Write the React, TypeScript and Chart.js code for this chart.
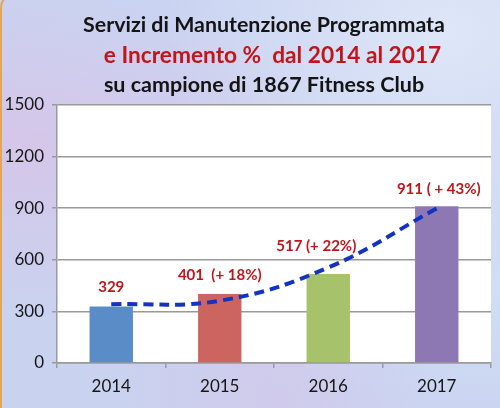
import { useEffect, useRef } from 'react'
import { Chart, registerables } from 'chart.js'

Chart.register(...registerables)

// chart data
const years = ['2014', '2015', '2016', '2017']
const services = [329, 401, 517, 911]
const trend = [341, 362, 555, 899]
const valueLabels = ['329', '401  (+ 18%)', '517 (+ 22%)', '911 ( + 43%)']
const yTicks = [0, 300, 600, 900, 1200, 1500]
const titleLines = [
  'Servizi di Manutenzione Programmata',
  'e Incremento %  dal 2014 al 2017',
  'su campione di 1867 Fitness Club',
]

const barColors = ['#5a8dc8', '#cc6560', '#a6c26a', '#8d78b3']
const titleColors = ['#141414', '#c0161b', '#141414']
const FONT = 'Lato, sans-serif'

// white plot area
const plotBg = {
  id: 'plotBg',
  beforeDraw(chart: any) {
    const { ctx, chartArea: a } = chart
    ctx.save()
    ctx.fillStyle = '#ffffff'
    ctx.fillRect(a.left, a.top, a.right - a.left, a.bottom - a.top)
    ctx.restore()
  },
}

// three title lines in different colours
const titlePlugin = {
  id: 'titleLines',
  afterDraw(chart: any) {
    const { ctx } = chart
    const spec = [
      { x: 264, y: 32, size: 21.4 },
      { x: 272.5, y: 62.5, size: 22.7 },
      { x: 264, y: 91.5, size: 21.5 },
    ]
    ctx.save()
    ctx.textAlign = 'center'
    ctx.textBaseline = 'alphabetic'
    titleLines.forEach((line, i) => {
      ctx.font = `bold ${spec[i].size}px ${FONT}`
      ctx.fillStyle = titleColors[i]
      ctx.fillText(line, spec[i].x, spec[i].y)
    })
    ctx.restore()
  },
}

// value labels above the bars
const labelOffsets = [
  [0, -19],
  [0, -19],
  [-12, -28],
  [2, -17],
]
const valueLabelPlugin = {
  id: 'valueLabels',
  afterDatasetsDraw(chart: any) {
    const { ctx } = chart
    const meta = chart.getDatasetMeta(1)
    ctx.save()
    ctx.font = `bold 15px ${FONT}`
    ctx.fillStyle = '#c0161b'
    ctx.textAlign = 'center'
    ctx.textBaseline = 'middle'
    meta.data.forEach((bar: any, i: number) => {
      ctx.fillText(valueLabels[i], bar.x + labelOffsets[i][0], bar.y + labelOffsets[i][1])
    })
    ctx.restore()
  },
}

const App = () => {
  const canvasRef = useRef<HTMLCanvasElement>(null)

  useEffect(() => {
    const chart = new Chart(canvasRef.current!, {
      type: 'bar',
      data: {
        labels: years,
        datasets: [
          {
            type: 'line',
            data: trend,
            borderColor: '#1433c2',
            borderWidth: 4,
            borderDash: [10, 6],
            pointRadius: 0,
            tension: 0.4,
            fill: false,
            order: 0,
          },
          {
            type: 'bar',
            data: services,
            backgroundColor: barColors,
            barPercentage: 0.4,
            categoryPercentage: 1,
            order: 1,
          },
        ] as any,
      },
      options: {
        responsive: false,
        animation: false,
        layout: { padding: { top: 105, right: 9, left: 0, bottom: 0 } },
        plugins: {
          legend: { display: false },
          tooltip: { enabled: false },
          title: { display: false },
        },
        scales: {
          x: {
            afterFit: (scale: any) => {
              scale.height = 45
            },
            grid: {
              offset: true,
              drawOnChartArea: false,
              tickLength: 5,
              color: '#9a9a9a',
              lineWidth: 1.5,
            },
            border: { color: '#9a9a9a', width: 1.5 },
            ticks: { font: { family: FONT, size: 17 }, color: '#161616', padding: 8 },
          },
          y: {
            min: 0,
            max: 1500,
            afterFit: (scale: any) => {
              scale.width = 57
            },
            afterBuildTicks: (scale: any) => {
              scale.ticks = yTicks.map((v) => ({ value: v }))
            },
            grid: { tickLength: 5, color: '#9a9a9a', lineWidth: 1.5 },
            border: { color: '#9a9a9a', width: 1.5 },
            ticks: {
              font: { family: FONT, size: 17 },
              color: '#161616',
              padding: 8,
              callback: (v: any) => String(v),
            },
          },
        },
      },
      plugins: [plotBg, titlePlugin, valueLabelPlugin],
    })

    return () => chart.destroy()
  }, [])

  return (
    <div
      style={{
        position: 'fixed',
        left: 0,
        top: 0,
        width: 500,
        height: 408,
        overflow: 'hidden',
        backgroundColor: '#c9d2ef',
        backgroundImage: [
          'radial-gradient(ellipse at 8% 35%, rgba(222,190,228,0.6), transparent 45%)',
          'radial-gradient(ellipse at 90% 8%, rgba(226,234,250,0.85), transparent 45%)',
          'radial-gradient(ellipse at 55% 98%, rgba(214,196,232,0.55), transparent 40%)',
          'radial-gradient(ellipse at 30% 5%, rgba(200,214,244,0.7), transparent 40%)',
          'radial-gradient(ellipse at 98% 70%, rgba(210,225,248,0.8), transparent 40%)',
        ].join(','),
      }}
    >
      <canvas ref={canvasRef} width={500} height={408} style={{ display: 'block' }} />
      <div
        style={{
          position: 'absolute',
          left: 0,
          top: -8,
          width: 560,
          height: 460,
          boxSizing: 'border-box',
          border: '2px solid #e2a657',
          borderRadius: 16,
          pointerEvents: 'none',
        }}
      />
    </div>
  )
}

export default App
